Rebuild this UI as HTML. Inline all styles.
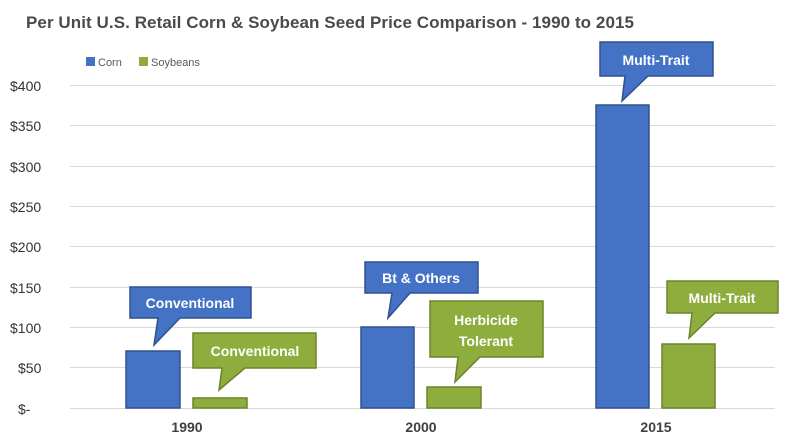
<!DOCTYPE html>
<html><head><style>body{margin:0;background:#fff}svg{display:block}</style></head>
<body>
<svg width="800" height="437" xmlns="http://www.w3.org/2000/svg" font-family="Liberation Sans, sans-serif">
<rect width="800" height="437" fill="#fff"/>
<text x="26" y="28" font-size="17" font-weight="bold" fill="#4a4a4a" textLength="608">Per Unit U.S. Retail Corn &amp; Soybean Seed Price Comparison - 1990 to 2015</text>
<rect x="86" y="57" width="9" height="9" fill="#4472c4"/><text x="98" y="66" font-size="11" fill="#595959">Corn</text>
<rect x="139" y="57" width="9" height="9" fill="#8fad3c"/><text x="151" y="66" font-size="11" fill="#595959">Soybeans</text>
<g stroke="#d9d9d9" stroke-width="1">
<line x1="70" x2="775" y1="85.5" y2="85.5"/><line x1="70" x2="775" y1="125.5" y2="125.5"/><line x1="70" x2="775" y1="166.5" y2="166.5"/><line x1="70" x2="775" y1="206.5" y2="206.5"/><line x1="70" x2="775" y1="246.5" y2="246.5"/><line x1="70" x2="775" y1="287.5" y2="287.5"/><line x1="70" x2="775" y1="327.5" y2="327.5"/><line x1="70" x2="775" y1="367.5" y2="367.5"/><line x1="70" x2="775" y1="408.5" y2="408.5"/>
</g>
<g font-size="14" fill="#333">
<text x="10" y="91">$400</text><text x="10" y="131">$350</text><text x="10" y="172">$300</text><text x="10" y="212">$250</text><text x="10" y="252">$200</text><text x="10" y="293">$150</text><text x="10" y="333">$100</text><text x="18" y="373">$50</text><text x="18" y="414">$-</text>
</g>
<g font-size="14" font-weight="bold" fill="#404040" text-anchor="middle">
<text x="187" y="432">1990</text><text x="421" y="432">2000</text><text x="656" y="432">2015</text>
</g>
<g fill="#4472c4" stroke="#2f528f" stroke-width="1.5">
<rect x="126" y="351" width="54" height="57"/>
<rect x="361" y="327" width="53" height="81"/>
<rect x="596" y="105" width="53" height="303"/>
</g>
<g fill="#8fad3c" stroke="#6b832c" stroke-width="1.5">
<rect x="193" y="398" width="54" height="10"/>
<rect x="427" y="387" width="54" height="21"/>
<rect x="662" y="344" width="53" height="64"/>
</g>
<g fill="#4472c4" stroke="#2f528f" stroke-width="1.5">
<path d="M130 287H251V318H180L154 345L158 318H130Z"/>
<path d="M365 262H478V293H410L388 318L392 293H365Z"/>
<path d="M600 42H713V76H648L622 101L625 76H600Z"/>
</g>
<g fill="#8fad3c" stroke="#6b832c" stroke-width="1.5">
<path d="M193 333H316V368H245L219 390L222 368H193Z"/>
<path d="M430 301H543V357H480L455 382L458 357H430Z"/>
<path d="M667 281H778V313H715L689 338L692 313H667Z"/>
</g>
<g font-size="14" font-weight="bold" fill="#fff" text-anchor="middle">
<text x="190" y="308">Conventional</text>
<text x="421" y="283">Bt &amp; Others</text>
<text x="656" y="65">Multi-Trait</text>
<text x="255" y="356">Conventional</text>
<text x="486" y="325">Herbicide</text><text x="486" y="346">Tolerant</text>
<text x="722" y="303">Multi-Trait</text>
</g>
</svg>
</body></html>
